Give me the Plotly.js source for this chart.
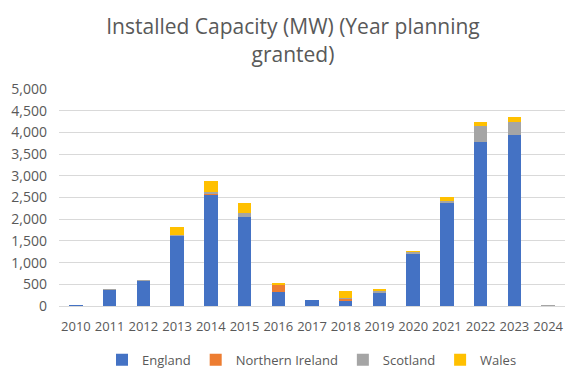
<!DOCTYPE html>
<html>
<head>
<meta charset="utf-8">
<script src="https://cdn.plot.ly/plotly-3.0.1.min.js"></script>
<style>html,body{margin:0;padding:0;background:#fff;}#chart{width:586px;height:381px;}</style>
</head>
<body>
<div id="chart"></div>
<script>
const years = ["2010","2011","2012","2013","2014","2015","2016","2017","2018","2019","2020","2021","2022","2023","2024"];
const england = [20, 360, 570, 1610, 2560, 2040, 320, 130, 110, 305, 1205, 2375, 3785, 3950, 0];
const northernIreland = [0, 0, 0, 0, 20, 0, 170, 0, 40, 0, 0, 0, 0, 0, 0];
const scotland = [0, 25, 20, 20, 50, 100, 0, 0, 45, 45, 40, 55, 370, 285, 15];
const wales = [0, 0, 10, 200, 260, 240, 45, 0, 160, 40, 25, 90, 75, 130, 0];

const seriesNames = ["England", "Northern Ireland", "Scotland", "Wales"];
const seriesData = [england, northernIreland, scotland, wales];
const seriesColors = ["#4472C4", "#ED7D31", "#A5A5A5", "#FFC000"];

const traces = seriesNames.map((n, i) => ({
  type: "bar", name: n, x: years, y: seriesData[i],
  marker: {color: seriesColors[i]},
  hoverinfo: "x+y+name"
}));

const layout = {
  width: 586, height: 381,
  margin: {l: 59, r: 21, t: 89, b: 75, autoexpand: false},
  barmode: "stack", bargap: 0.6,
  paper_bgcolor: "#fff", plot_bgcolor: "#fff",
  font: {family: "Open Sans, sans-serif", color: "#595959", size: 12},
  title: {text: "Installed Capacity (MW) (Year planning<br>granted)", x: 0.5, xanchor: "center",
          yref: "container", y: 0.91, yanchor: "middle",
          font: {family: "Open Sans, sans-serif", size: 21, color: "#595959"}},
  xaxis: {type: "category", showgrid: false, showline: true, linecolor: "#d9d9d9", ticks: "",
          ticklabelstandoff: 8, tickfont: {size: 13, color: "#595959"}},
  yaxis: {range: [0, 5000], dtick: 500, tickformat: ",", gridcolor: "#d9d9d9", zeroline: false,
          showline: false, ticks: "", ticklabelstandoff: 11, tickfont: {size: 14, color: "#595959"}},
  legend: {orientation: "h", x: 0.5, xanchor: "center", yref: "container", y: 0.095, yanchor: "top", itemwidth: 30,
           font: {size: 13, color: "#595959"}, traceorder: "normal"},
  showlegend: true
};
Plotly.newPlot("chart", traces, layout, {displayModeBar: false, staticPlot: true});
</script>
</body>
</html>
